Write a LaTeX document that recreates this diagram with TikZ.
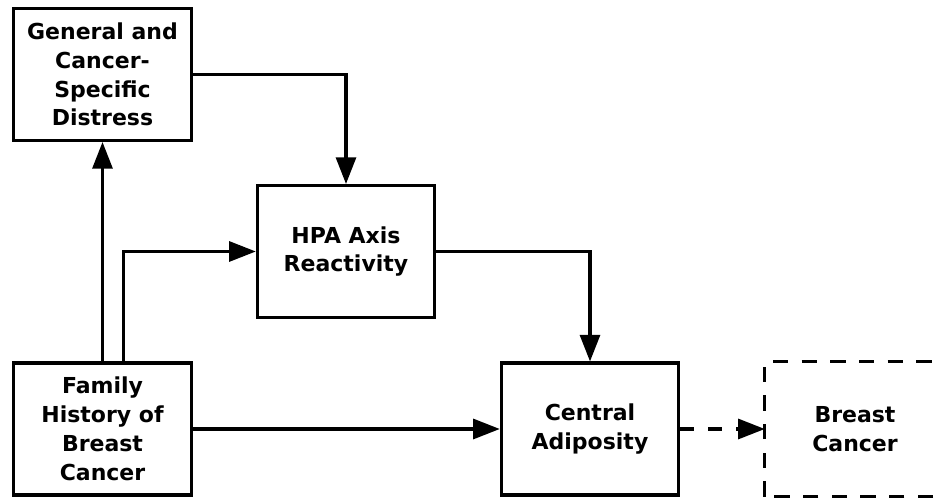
\documentclass[tikz,border=0pt]{standalone}
\usepackage{fontspec}
\setmainfont{DejaVu Sans}
\usepackage{tikz}
\usetikzlibrary{arrows.meta,positioning}

\begin{document}
\begin{tikzpicture}[x=0.75pt,y=0.75pt,yscale=-1,xscale=1,
  boxnode/.style={draw,line width=2.3pt,minimum width=133pt,minimum height=99pt,
    align=center,font=\bfseries\fontsize{16.5}{21.6}\selectfont,inner sep=0pt},
  dashline/.style={line width=2.3pt,dash pattern=on 11.5pt off 10pt},
  link/.style={line width=2.3pt,-{Triangle[length=20pt,width=15pt]}}]
\useasboundingbox (0,0) rectangle (940,498);
\clip (0,0) rectangle (940,498);

% Boxes
\node[boxnode] (distress) at (102.5,74.5) {General and\\Cancer-\\Specific\\Distress};
\node[boxnode] (hpa) at (346,251.5) {HPA Axis\\Reactivity};
\node[boxnode] (family) at (102.5,429) {Family\\History of\\Breast\\Cancer};
\node[boxnode] (adipose) at (590,429) {Central\\Adiposity};
\node[boxnode,draw=none] (cancer) at (855,429) {Breast\\Cancer};
% the dashed box runs off the right edge
\draw[dashline] (cancer.south west) rectangle ([xshift=20pt]cancer.north east);

% Arrows
\draw[link] (distress.east) -| (hpa.north);
\draw[link] (hpa.east) -| (adipose.north);
\draw[link] (family.north) -- (distress.south);
\draw[link] ([xshift=16pt]family.north) |- (hpa.west);
\draw[link] (family.east) -- (adipose.west);
\draw[link,dash pattern=on 10.5pt off 10.5pt] (adipose.east) -- (cancer.west);

\end{tikzpicture}
\end{document}
